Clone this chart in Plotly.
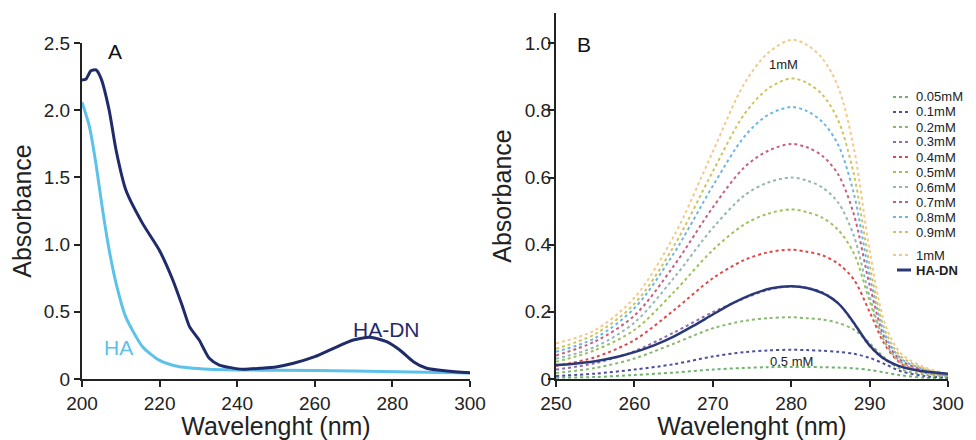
import plotly.graph_objects as go

# ---------------- Panel A data ----------------
a_hadn_x = [200, 201, 202.3, 203.6, 204.9, 207, 208.8, 211.3, 215.6, 219.9, 223.4, 225.9, 227.7,
            230.2, 232.8, 235.4, 241.4, 246, 250, 254.5, 260, 264.8, 269.9, 274.2, 278.5, 281.9,
            285.4, 288.8, 294, 300]
a_hadn_y = [2.225, 2.23, 2.294, 2.30, 2.237, 2.0, 1.70, 1.406, 1.158, 0.96, 0.737, 0.54, 0.39,
            0.29, 0.154, 0.104, 0.072, 0.08, 0.09, 0.117, 0.166, 0.228, 0.29, 0.31, 0.278, 0.216,
            0.129, 0.08, 0.06, 0.047]
a_ha_x = [200, 201.9, 203.6, 205.3, 207, 208.8, 211.3, 215.6, 219.9, 224.2, 232.8, 241, 250, 270, 285, 300]
a_ha_y = [2.06, 1.88, 1.60, 1.26, 0.96, 0.71, 0.46, 0.24, 0.14, 0.097, 0.072, 0.067, 0.065, 0.06, 0.052, 0.045]

# ---------------- Panel B data ----------------
b_x = [250, 255, 260, 265, 270, 274, 277, 280, 282, 284, 286, 288, 290, 292, 294, 297, 300]
b_names = ["0.05mM", "0.1mM", "0.2mM", "0.3mM", "0.4mM", "0.5mM", "0.6mM", "0.7mM", "0.8mM", "0.9mM", "1mM"]
b_005 = [0.004, 0.006, 0.012, 0.019, 0.028, 0.033, 0.035, 0.036, 0.036, 0.035, 0.034, 0.032, 0.027, 0.019, 0.011, 0.004, 0.002]
b_01 = [0.009, 0.016, 0.028, 0.044, 0.067, 0.080, 0.085, 0.087, 0.086, 0.084, 0.081, 0.075, 0.063, 0.044, 0.023, 0.009, 0.004]
b_02 = [0.018, 0.033, 0.061, 0.105, 0.151, 0.173, 0.181, 0.184, 0.181, 0.177, 0.167, 0.147, 0.107, 0.061, 0.029, 0.013, 0.007]
b_03 = [0.028, 0.047, 0.083, 0.138, 0.199, 0.240, 0.265, 0.276, 0.272, 0.258, 0.226, 0.165, 0.098, 0.057, 0.036, 0.022, 0.015]
b_04 = [0.039, 0.065, 0.116, 0.204, 0.300, 0.354, 0.377, 0.385, 0.379, 0.368, 0.343, 0.296, 0.200, 0.100, 0.046, 0.019, 0.012]
b_05 = [0.051, 0.086, 0.146, 0.258, 0.384, 0.460, 0.492, 0.505, 0.497, 0.480, 0.444, 0.374, 0.232, 0.106, 0.048, 0.020, 0.010]
b_06 = [0.060, 0.096, 0.168, 0.300, 0.450, 0.546, 0.585, 0.600, 0.591, 0.570, 0.525, 0.426, 0.246, 0.108, 0.051, 0.023, 0.010]
b_07 = [0.070, 0.112, 0.189, 0.336, 0.511, 0.630, 0.679, 0.700, 0.690, 0.664, 0.609, 0.490, 0.280, 0.119, 0.056, 0.025, 0.011]
b_08 = [0.081, 0.122, 0.211, 0.373, 0.575, 0.721, 0.786, 0.810, 0.798, 0.765, 0.697, 0.551, 0.308, 0.130, 0.061, 0.028, 0.012]
b_09 = [0.090, 0.134, 0.224, 0.394, 0.618, 0.788, 0.864, 0.895, 0.882, 0.846, 0.770, 0.609, 0.340, 0.143, 0.067, 0.031, 0.013]
b_10 = [0.106, 0.146, 0.242, 0.424, 0.677, 0.879, 0.970, 1.010, 0.995, 0.954, 0.869, 0.687, 0.384, 0.162, 0.076, 0.035, 0.015]
b_series = [b_005, b_01, b_02, b_03, b_04, b_05, b_06, b_07, b_08, b_09, b_10]
b_colors = ["#6fb36f", "#4b4f9e", "#86b86e", "#8a6fa8", "#e04848", "#9ec25a",
            "#93b8b4", "#c4607e", "#6cb6e4", "#cfc35e", "#f2c98a"]

b_hadn_x = [250, 252, 255, 258, 260, 262.5, 265, 267.5, 270, 272.5, 275, 277.5, 280, 282, 284,
            285, 286, 287, 288, 289, 290, 291, 292, 293, 294, 296, 298, 300]
b_hadn_y = [0.042, 0.045, 0.053, 0.067, 0.080, 0.100, 0.126, 0.158, 0.192, 0.225, 0.252, 0.270,
            0.276, 0.271, 0.256, 0.243, 0.225, 0.199, 0.167, 0.132, 0.100, 0.076, 0.058, 0.046,
            0.037, 0.026, 0.020, 0.016]

a_xticks = [200, 220, 240, 260, 280, 300]
a_yticks = [0, 0.5, 1.0, 1.5, 2.0, 2.5]
a_yticktext = ["0", "0.5", "1.0", "1.5", "2.0", "2.5"]
b_xticks = [250, 260, 270, 280, 290, 300]
b_yticks = [0, 0.2, 0.4, 0.6, 0.8, 1.0]
b_yticktext = ["0", "0.2", "0.4", "0.6", "0.8", "1.0"]

# The page body has an 8px margin, so the figure is placed at (8, 8) in the window.
OFF = 8
W, H = 976 - OFF, 440 - OFF
FONT = "Liberation Sans, Arial, Helvetica, sans-serif"
INK = "#222222"
NAVY_A = "#1f2b6b"
HA_BLUE = "#5cc2ea"
NAVY_B = "#2b3878"


def px_x(p):
    return (p - OFF) / W


def px_y(p):
    return 1 - (p - OFF) / H


fig = go.Figure()

fig.add_trace(go.Scatter(x=a_ha_x, y=a_ha_y, mode="lines", name="HA",
                         line=dict(color=HA_BLUE, width=3, shape="spline", smoothing=0.6),
                         xaxis="x", yaxis="y", showlegend=False))
fig.add_trace(go.Scatter(x=a_hadn_x, y=a_hadn_y, mode="lines", name="HA-DN",
                         line=dict(color=NAVY_A, width=3, shape="spline", smoothing=0.6),
                         xaxis="x", yaxis="y", showlegend=False))

for name, ys, col in zip(b_names, b_series, b_colors):
    fig.add_trace(go.Scatter(x=b_x, y=ys, mode="lines", name=name,
                             line=dict(color=col, width=2, dash="dot", shape="spline", smoothing=0.9),
                             xaxis="x2", yaxis="y2", showlegend=False))
fig.add_trace(go.Scatter(x=b_hadn_x, y=b_hadn_y, mode="lines", name="HA-DN",
                         line=dict(color=NAVY_B, width=2.5, shape="spline", smoothing=0.7),
                         xaxis="x2", yaxis="y2", showlegend=False))

axis_common = dict(showline=True, linecolor=INK, linewidth=2, ticks="outside", ticklen=6,
                   tickwidth=2, tickcolor=INK, showgrid=False, zeroline=False, automargin=False,
                   tickfont=dict(family=FONT, size=19, color=INK))
title_font = dict(family=FONT, size=25, color=INK)

fig.update_layout(
    template="none",
    width=W, height=H, autosize=False,
    margin=dict(l=0, r=0, t=0, b=0, pad=0),
    paper_bgcolor="white", plot_bgcolor="white",
    showlegend=False,
    xaxis=dict(domain=[px_x(82), px_x(470)], range=[200, 300], tickvals=a_xticks,
               anchor="y", title=dict(text="Wavelenght (nm)", font=title_font, standoff=2),
               **axis_common),
    yaxis=dict(domain=[px_y(379), px_y(43)], range=[0, 2.5], tickvals=a_yticks,
               ticktext=a_yticktext, anchor="x",
               title=dict(text="Absorbance", font=title_font, standoff=8), **axis_common),
    xaxis2=dict(domain=[px_x(556), px_x(948)], range=[250, 300], tickvals=b_xticks,
                anchor="y2", title=dict(text="Wavelenght (nm)", font=title_font, standoff=2),
                **axis_common),
    yaxis2=dict(domain=[px_y(379), px_y(13)], range=[0, 1.09], tickvals=b_yticks,
                ticktext=b_yticktext, anchor="x2", ticklabelstandoff=-7,
                title=dict(text="Absorbance", font=title_font, standoff=6), **axis_common),
)

ann = [
    dict(x=208.4, y=2.435, xref="x", yref="y", text="A", showarrow=False,
         font=dict(family=FONT, size=21, color="#111")),
    dict(x=209.3, y=0.238, xref="x", yref="y", text="HA", showarrow=False,
         font=dict(family=FONT, size=21, color=HA_BLUE)),
    dict(x=278.4, y=0.365, xref="x", yref="y", text="HA-DN", showarrow=False,
         font=dict(family=FONT, size=21, color=NAVY_A)),
    dict(x=253.6, y=0.997, xref="x2", yref="y2", text="B", showarrow=False,
         font=dict(family=FONT, size=21, color="#111")),
    dict(x=279.0, y=0.937, xref="x2", yref="y2", text="1mM", showarrow=False,
         font=dict(family=FONT, size=13, color=INK)),
    dict(x=280.0, y=0.052, xref="x2", yref="y2", text="0.5 mM", showarrow=False,
         font=dict(family=FONT, size=13, color=INK)),
]

# Legend (key entries next to plot B)
leg_rows = [97, 112, 127, 142, 157, 172, 187, 202, 217, 232, 255]
shapes = []
for name, col, yy in zip(b_names, b_colors, leg_rows):
    shapes.append(dict(type="line", xref="paper", yref="paper",
                       x0=px_x(893), x1=px_x(910), y0=px_y(yy), y1=px_y(yy),
                       line=dict(color=col, width=2, dash="dot")))
    ann.append(dict(x=px_x(914), y=px_y(yy), xref="paper", yref="paper", text=name,
                    showarrow=False, xanchor="left", yanchor="middle",
                    font=dict(family=FONT, size=13, color=INK)))
shapes.append(dict(type="line", xref="paper", yref="paper",
                   x0=px_x(897), x1=px_x(911), y0=px_y(270), y1=px_y(270),
                   line=dict(color=NAVY_B, width=3)))
ann.append(dict(x=px_x(914), y=px_y(270), xref="paper", yref="paper", text="<b>HA-DN</b>",
                showarrow=False, xanchor="left", yanchor="middle",
                font=dict(family=FONT, size=13, color=INK)))

fig.update_layout(annotations=ann, shapes=shapes)

fig.write_html("out.html")
